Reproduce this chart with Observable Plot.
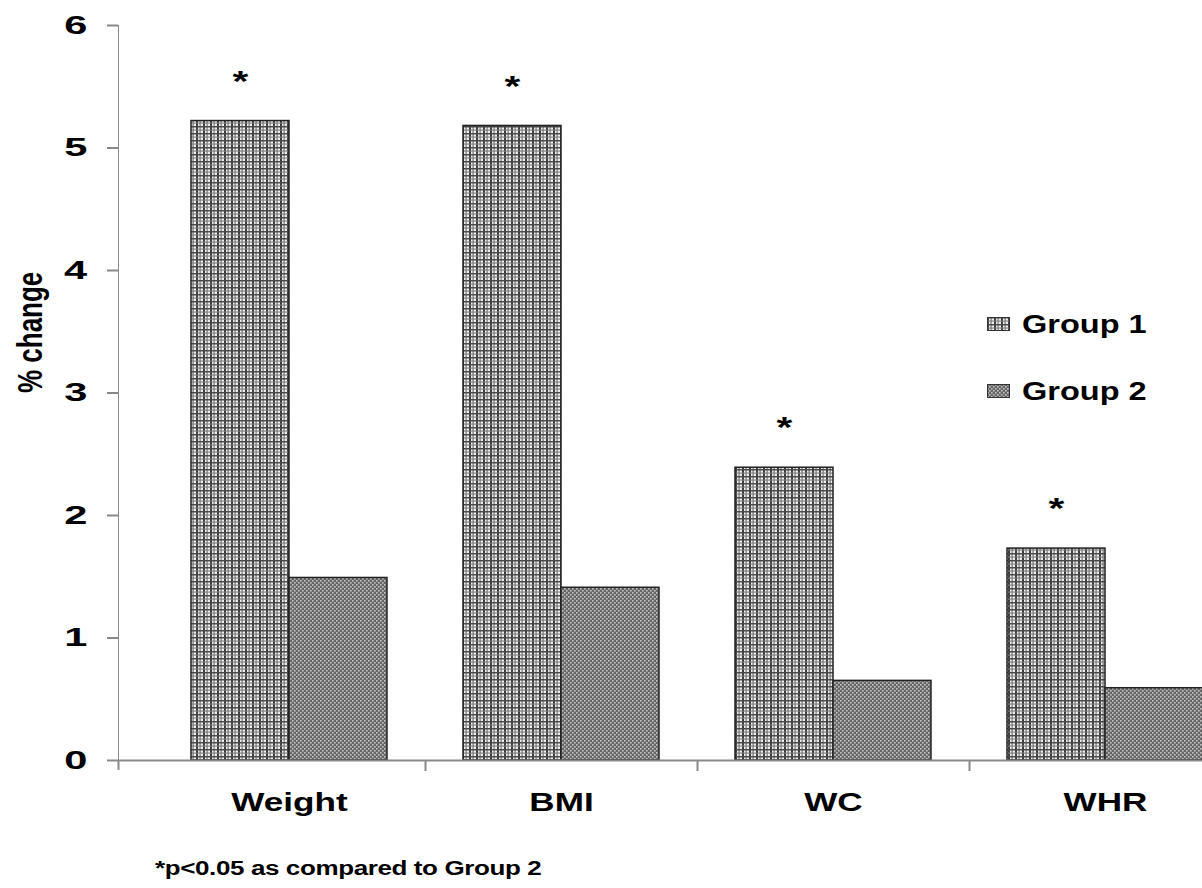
<!DOCTYPE html>
<html><head><meta charset="utf-8">
<script src="https://cdn.jsdelivr.net/npm/d3@7"></script>
<script src="https://cdn.jsdelivr.net/npm/@observablehq/plot@0.6"></script>
<style>
body{margin:0;background:#fff;}
#wrap{position:relative;width:1202px;height:888px;overflow:hidden;background:#fff;font-family:"Liberation Sans",Arial,sans-serif;font-weight:bold;color:#000;}
#chart{position:absolute;left:0;top:0;}
#chart svg text{fill:#000;}
#chart svg [aria-label^="y-axis"] path,#chart svg [aria-label^="y-axis"] line{stroke-width:2;}
.leg{position:absolute;left:987px;height:26px;display:flex;align-items:center;}
.leg svg{display:block;}
.leg span{display:inline-block;margin-left:12px;font-size:26px;line-height:26px;transform:scaleX(1.25);transform-origin:left center;white-space:nowrap;}
#foot{position:absolute;left:155px;top:858px;font-size:20px;line-height:20px;transform:scaleX(1.3);transform-origin:left center;white-space:nowrap;letter-spacing:-0.3px;}
</style>
</head><body>
<svg width="0" height="0" style="position:absolute">
<defs>
<pattern id="p1" width="7" height="7" patternUnits="userSpaceOnUse">
<rect width="7" height="7" fill="#f0f0f0"/>
<rect x="0" width="2" height="7" fill="#3c3c3c"/>
<rect x="3.5" width="1.2" height="7" fill="#777"/>
<rect y="0" width="7" height="1.5" fill="#4a4a4a"/>
<rect y="3.5" width="7" height="1.1" fill="#7c7c7c"/>
</pattern>
<pattern id="p2" width="4" height="4" patternUnits="userSpaceOnUse">
<rect width="4" height="4" fill="#666"/>
<rect width="1.6" height="1.6" fill="#c4c4c4"/>
<rect x="2" y="2" width="1.6" height="1.6" fill="#c4c4c4"/>
</pattern>
</defs>
</svg>
<div id="wrap"><div id="chart"></div><div id="legend"></div><div id="foot"></div></div>
<script>
const categories = ["Weight", "BMI", "WC", "WHR"];
const group1 = [5.22, 5.18, 2.39, 1.73];
const group2 = [1.49, 1.41, 0.65, 0.59];
const significant = [true, true, true, true];
const yTicks = [0, 1, 2, 3, 4, 5, 6];
const seriesNames = ["Group 1", "Group 2"];
const seriesFills = ["url(#p1)", "url(#p2)"];
const yLabel = "% change";
const footnote = "*p<0.05 as compared to Group 2";

const data = categories.map((c, i) => ({category: c, g1: group1[i], g2: group2[i], sig: significant[i]}));

const W = 1202, H = 845, mL = 118, mT = 25, mB = 85;
const xRange = [153, 1241];
const band = (xRange[1] - xRange[0]) / categories.length;
const half = band / 2;
const barW = 98;

const plot = Plot.plot({
  width: W, height: H,
  marginLeft: mL, marginRight: 0, marginTop: mT, marginBottom: mB,
  style: {fontFamily: "'Liberation Sans', Arial, sans-serif", fontSize: "26px", fontWeight: "bold", color: "#888", background: "white", overflow: "visible"},
  x: {domain: categories, range: xRange, padding: 0, tickSize: 0, tickPadding: 32, label: null},
  y: {domain: [0, 6], ticks: yTicks, tickSize: 11, tickPadding: 20, label: null, line: true, tickFormat: d => String(d)},
  marks: [
    Plot.barY(data, {x: "category", y: "g1", fill: seriesFills[0], stroke: "#222", strokeWidth: 1.5, insetLeft: half - barW, insetRight: half}),
    Plot.barY(data, {x: "category", y: "g2", fill: seriesFills[1], stroke: "#222", strokeWidth: 1.5, insetLeft: half, insetRight: half - barW}),
    Plot.ruleY([0], {stroke: "#888", strokeWidth: 2}),
    Plot.ruleX(categories.slice(0, 1), {x: d => d, dx: -(xRange[0] - mL) - half, insetTop: H - mT - mB, insetBottom: -10, stroke: "#888", strokeWidth: 2}),
    Plot.ruleX(categories.slice(1), {x: d => d, dx: -half, insetTop: H - mT - mB, insetBottom: -11, stroke: "#888", strokeWidth: 2}),
    Plot.text(data.filter(d => d.sig), {x: "category", y: "g1", text: () => "*", dx: -barW / 2, dy: -40, fontSize: 30, fill: "#000"}),
    Plot.text([yLabel], {text: d => d, frameAnchor: "left", rotate: -90, dx: -88, fill: "#000"})
  ]
});
document.getElementById("chart").appendChild(plot);

// emulate the horizontally stretched lettering of the original
function stretch(el, s) {
  const bb = el.getBBox();
  const t = el.getAttribute("transform") || "";
  if (/rotate/.test(t)) {
    const cy = bb.y + bb.height / 2;
    el.setAttribute("transform", `${t} translate(0,${cy}) scale(1,${s}) translate(0,${-cy})`);
  } else {
    const a = getComputedStyle(el).textAnchor;
    const px = a === "end" ? bb.x + bb.width : a === "middle" ? bb.x + bb.width / 2 : bb.x;
    el.setAttribute("transform", `${t} translate(${px},0) scale(${s},1) translate(${-px},0)`);
  }
}
plot.querySelectorAll("text").forEach(el => {
  const isY = el.closest('[aria-label^="y-axis"]');
  stretch(el, isY ? 1.6 : 1.35);
});

const legend = document.getElementById("legend");
seriesNames.forEach((name, i) => {
  const row = document.createElement("div");
  row.className = "leg";
  row.style.top = (311 + i * 67) + "px";
  row.innerHTML = `<svg width="23" height="14"><rect x="0.5" y="0.5" width="22" height="13" fill="${seriesFills[i]}" stroke="#333"/></svg><span>${name}</span>`;
  legend.appendChild(row);
});
document.getElementById("foot").textContent = footnote;
</script>
</body></html>
